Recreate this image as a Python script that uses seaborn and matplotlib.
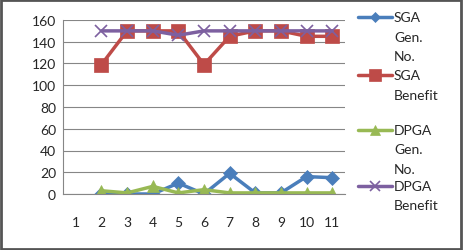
import numpy as np
import pandas as pd
import seaborn as sns
import matplotlib.pyplot as plt
from matplotlib.lines import Line2D
from matplotlib.patches import Rectangle

# data (category 1 has no values)
runs = list(range(1, 12))
sga_gen = [np.nan, 0, 0, 0, 10, 0, 19, 1, 1, 16, 15]
sga_benefit = [np.nan, 119, 150, 150, 150, 119, 145, 150, 150, 145, 145]
dpga_gen = [np.nan, 3, 1, 7, 1, 4, 1, 1, 1, 1, 1]
dpga_benefit = [np.nan, 150, 150, 150, 146, 150, 150, 150, 150, 150, 150]

series_names = ["SGA Gen. No.", "SGA Benefit", "DPGA Gen. No.", "DPGA Benefit"]
legend_labels = ["SGA\nGen.\nNo.", "SGA\nBenefit", "DPGA\nGen.\nNo.", "DPGA\nBenefit"]
colors = ["#4A7EBB", "#BE4B48", "#98B954", "#7D60A0"]
markers = ["D", "s", "^", "x"]
marker_sizes = [7, 10, 9, 9]

df = pd.DataFrame({"run": runs * 4,
                   "value": sga_gen + sga_benefit + dpga_gen + dpga_benefit,
                   "series": sum([[s] * len(runs) for s in series_names], [])})

sns.set_style("white")
plt.rcParams['font.family'] = ['Lato', 'DejaVu Sans']

W, H = 463, 251
fig = plt.figure(figsize=(W / 100, H / 100), dpi=100)
ax = fig.add_axes([63 / W, 1 - 195 / H, (345 - 63) / W, (195 - 21) / H])

for name, col, mk, ms in zip(series_names, colors, markers, marker_sizes):
    sub = df[df["series"] == name]
    sns.lineplot(data=sub, x="run", y="value", ax=ax, color=col, linewidth=2.5,
                 marker=mk, markersize=ms, markeredgecolor=col,
                 markeredgewidth=1.2 if mk == "x" else 0.5, legend=False)

ax.set_xlim(0.5, 11.5)
ax.set_ylim(0, 160)
ax.set_yticks(range(0, 161, 20))
ax.set_xticks(runs)
ax.set_xticks(np.arange(0.5, 11.6, 1), minor=True)
ax.tick_params(axis="x", which="major", length=0, pad=16, labelsize=10)
ax.tick_params(axis="x", which="minor", length=4, direction="out", color="#868686")
ax.tick_params(axis="y", length=0, pad=5, labelsize=10)
ax.yaxis.grid(True, color="#868686", linewidth=0.8)
ax.set_axisbelow(True)
ax.set_xlabel("")
ax.set_ylabel("")
for side in ["top", "right"]:
    ax.spines[side].set_visible(False)
for side in ["left", "bottom"]:
    ax.spines[side].set_color("#868686")
    ax.spines[side].set_linewidth(0.8)

# legend on the right, drawn by hand so that the key sits on the first text line
entry_y = [18, 76, 131, 187]
for y, lab, c, m, s in zip(entry_y, legend_labels, colors, markers, marker_sizes):
    fig.add_artist(Line2D([358 / W, 392 / W], [1 - y / H] * 2, transform=fig.transFigure,
                          color=c, linewidth=2.5))
    fig.add_artist(Line2D([375 / W], [1 - y / H], transform=fig.transFigure, color=c,
                          marker=m, markersize=s * 0.8, markeredgecolor=c,
                          markeredgewidth=1.2 if m == "x" else 0.5))
    for i, line in enumerate(lab.split("\n")):
        fig.text(394 / W, 1 - (y + i * 19.5) / H, line, fontsize=10, va="center", ha="left")

fig.patches.append(Rectangle((0.003, 0.005), 0.992, 0.99, transform=fig.transFigure,
                             fill=False, edgecolor="#555555", linewidth=2))

fig.savefig("out.png", dpi=100)
